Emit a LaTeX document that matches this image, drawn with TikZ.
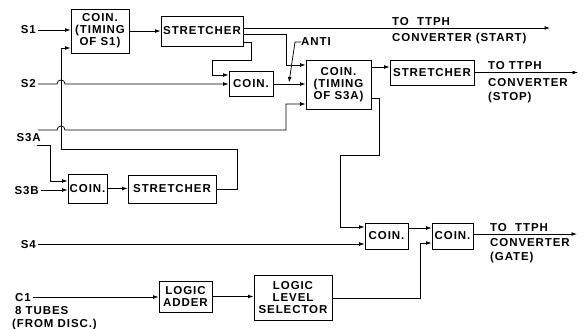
\documentclass[tikz,border=0pt]{standalone}
\usepackage{fontspec}
\setmainfont[LetterSpace=8]{Liberation Sans}
\usetikzlibrary{arrows.meta}
\newcommand\dlbl{\bfseries\fontsize{11.5}{12}\selectfont}
\begin{document}
\begin{tikzpicture}[x=1pt,y=-1pt,
  box/.style={draw,line width=0.9pt,inner sep=0pt,align=center,font=\dlbl},
  ln/.style={line width=0.75pt},
  arr/.style={-{Latex[length=5.5pt,width=3.8pt]}},
  lbl/.style={font=\dlbl,inner sep=0pt,text height=8pt,text depth=0pt}]
\useasboundingbox (0,0) rectangle (584,329);
% boxes
\node[box,minimum width=58pt,minimum height=44pt] (coinA) at (100,31) {COIN.\\(TIMING\\OF S1)};
\node[box,minimum width=82pt,minimum height=30pt] (stA) at (202,31) {STRETCHER};
\node[box,minimum width=44pt,minimum height=25pt] (coinB) at (251,84) {COIN.};
\node[box,minimum width=65pt,minimum height=49pt] (coinC) at (338.5,84.5) {COIN.\\(TIMING\\OF S3A)};
\node[box,minimum width=84pt,minimum height=25pt] (stC) at (432,72.5) {STRETCHER};
\node[box,minimum width=39pt,minimum height=29pt] (coinD) at (87.5,188.5) {COIN.};
\node[box,minimum width=88pt,minimum height=28pt] (stD) at (172,189) {STRETCHER};
\node[box,minimum width=43pt,minimum height=26pt] (coinE) at (386.5,236) {COIN.};
\node[box,minimum width=41pt,minimum height=26pt] (coinF) at (452.5,236) {COIN.};
\node[box,minimum width=53pt,minimum height=31pt] (addr) at (185.5,296.5) {LOGIC\\ADDER};
\node[box,minimum width=78pt,minimum height=45pt] (sel) at (293,297.5) {LOGIC\\LEVEL\\SELECTOR};
% input labels
\node[lbl,anchor=east] (s1) at (36,30) {S1};
\node[lbl,anchor=east] (s2) at (36,84) {S2};
\node[lbl,anchor=east] (s3a) at (41,137) {S3A};
\node[lbl,anchor=east] (s3b) at (39,190) {S3B};
\node[lbl,anchor=east] (s4) at (36,244) {S4};
\node[lbl,anchor=west] (cin) at (15,297) {C1};
\node[lbl,anchor=west] (tubes) at (15,310) {8 TUBES};
\node[lbl,anchor=west] (disc) at (12,323) {(FROM DISC.)};
\node[lbl,anchor=west] (anti) at (301,42) {ANTI};
% output labels
\node[lbl,anchor=west] (startA) at (392,22) {TO\ \ TTPH};
\node[lbl,anchor=west] (startB) at (392,38) {CONVERTER (START)};
\node[lbl,anchor=west] (stopA) at (488,66) {TO TTPH};
\node[lbl,anchor=west] (stopB) at (488,82) {CONVERTER};
\node[lbl,anchor=west] (stopC) at (488,96) {(STOP)};
\node[lbl,anchor=west] (gateA) at (490,227) {TO\ \ TTPH};
\node[lbl,anchor=west] (gateB) at (490,242) {CONVERTER};
\node[lbl,anchor=west] (gateC) at (490,256) {(GATE)};
% free ends
\coordinate (startend) at (550,28);
\coordinate (stopend) at (578,72.5);
\coordinate (gateend) at (577,234);
\coordinate (s3aU) at (38,130);
\coordinate (s3aL) at (37,145);
% connectors
\draw[ln,arr] ([xshift=2pt]s1.east) -- (s1.east -| coinA.west);
\draw[ln,arr] (coinA.east) -- (stA.west);
\draw[ln,arr] (stA.east |- 0,28) -- (startend);
\draw[ln,arr] (stA.east |- 0,34) -- (286,34) -- (286,65) -- (coinC.west |- 0,65);
\draw[ln,arr] (stA.east |- 0,42) -- (251,42) -- (251,60) -- (212,60) -- (212,75) -- (coinB.west |- 0,75);
\draw[ln,arr] ([xshift=2pt]s2.east) -- (57,84) .. controls (57,78.7) and (65,78.7) .. (65,84) -- (coinB.west);
\draw[ln,arr] (coinB.east) -- (coinC.west |- coinB.east);
\draw[ln,arr] (anti.west) -- (295,42) -- (289,82.5);
\draw[ln,arr] (s3aU) -- (57,130) .. controls (57,124.7) and (65,124.7) .. (65,130) -- (286,130) -- (286,104) -- (coinC.west |- 0,104);
\draw[ln,arr] (s3aL) -- (50,145) -- (50,181) -- (coinD.west |- 0,181);
\draw[ln,arr] ([xshift=2pt]s3b.east) -- (coinD.west |- s3b.east);
\draw[ln,arr] (coinD.east) -- (stD.west |- coinD.east);
\draw[ln,arr] (stD.east) -- (237,189) -- (237,149) -- (61,149) -- (61,48) -- (coinA.west |- 0,48);
\draw[ln,arr] (coinC.east |- 0,67) -- (stC.west |- 0,67);
\draw[ln,arr] (stC.east) -- (stopend);
\draw[ln,arr] (coinC.east |- 0,98) -- (379,98) -- (379,155) -- (340,155) -- (340,227) -- (coinE.west |- 0,227);
\draw[ln,arr] ([xshift=2pt]s4.east) -- (coinE.west |- s4.east);
\draw[ln,arr] (coinE.east |- 0,228) -- (coinF.west |- 0,228);
\draw[ln,arr] (coinF.east |- 0,234) -- (gateend);
\draw[ln,arr] ([xshift=2pt]cin.east) -- (addr.west |- cin.east);
\draw[ln,arr] (addr.east) -- (sel.west |- addr.east);
\draw[ln,arr] (sel.east |- 0,298) -- (420,298) -- (420,243) -- (coinF.west |- 0,243);
\end{tikzpicture}
\end{document}
